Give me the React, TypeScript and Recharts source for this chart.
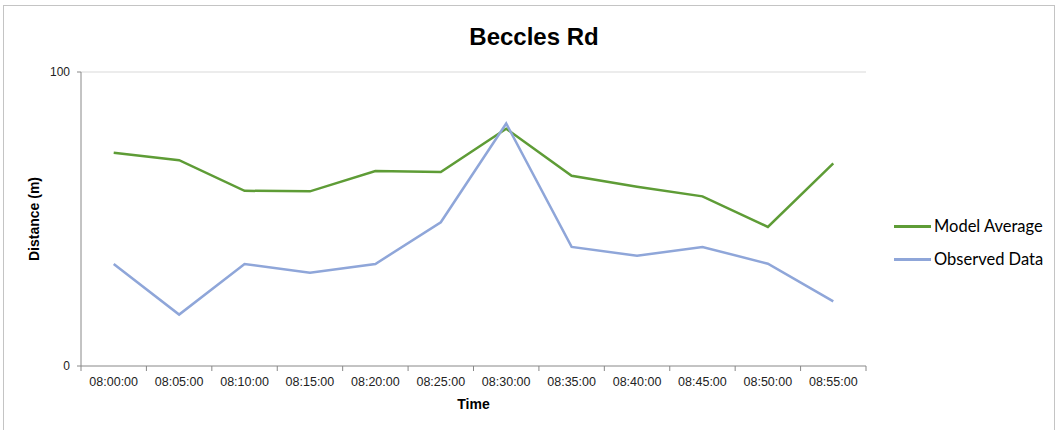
import { LineChart, Line, XAxis, YAxis, CartesianGrid } from 'recharts';

const times = [
  '08:00:00', '08:05:00', '08:10:00', '08:15:00', '08:20:00', '08:25:00',
  '08:30:00', '08:35:00', '08:40:00', '08:45:00', '08:50:00', '08:55:00',
];
const modelAverage = [72.5, 70.0, 59.6, 59.4, 66.3, 66.0, 80.7, 64.7, 61.0, 57.7, 47.3, 68.9];
const observedData = [34.7, 17.5, 34.7, 31.7, 34.7, 48.9, 82.5, 40.5, 37.5, 40.5, 34.8, 22.0];
const yTicks = [0, 100];
const seriesNames = ['Model Average', 'Observed Data'];
const seriesColors = ['#5e9c36', '#8fa6d9'];

const data = times.map((t, i) => ({
  time: t,
  model: modelAverage[i],
  observed: observedData[i],
}));

const W = 1064;
const H = 430;
const PLOT_LEFT = 81;
const PLOT_RIGHT = 866;
const PLOT_TOP = 72;
const PLOT_BOTTOM = 366;
const HALF_BAND = (PLOT_RIGHT - PLOT_LEFT) / times.length / 2;
const FONT = 'Liberation Sans, Arial, sans-serif';

function TimeTick(props: any) {
  const { x, payload, index } = props;
  const axisY = PLOT_BOTTOM;
  const last = index === times.length - 1;
  return (
    <g>
      <line x1={x - HALF_BAND} y1={axisY} x2={x - HALF_BAND} y2={axisY + 5} stroke="#888" />
      {last && (
        <line x1={x + HALF_BAND} y1={axisY} x2={x + HALF_BAND} y2={axisY + 5} stroke="#888" />
      )}
      <text x={x} y={axisY + 20} textAnchor="middle" fontFamily={FONT} fontSize={12.5} fill="#222">
        {payload.value}
      </text>
    </g>
  );
}

export default function App() {
  return (
    <div style={{ position: 'absolute', left: 0, top: 0, width: W, height: H, background: '#fff', overflow: 'hidden' }}>
      <div
        style={{
          position: 'absolute',
          left: 3,
          top: 5,
          width: 1052,
          height: 440,
          border: '1px solid #c4c4c4',
          boxSizing: 'border-box',
        }}
      />
      <div
        style={{
          position: 'absolute',
          left: 0,
          width: 1068,
          top: 22,
          textAlign: 'center',
          fontFamily: FONT,
          fontWeight: 'bold',
          fontSize: 24,
          lineHeight: '30px',
          color: '#000',
        }}
      >
        Beccles Rd
      </div>
      <LineChart
        width={W}
        height={H}
        data={data}
        margin={{ top: PLOT_TOP, right: W - PLOT_RIGHT, bottom: H - PLOT_BOTTOM - 30, left: 0 }}
        style={{ position: 'absolute', left: 0, top: 0 }}
      >
        <CartesianGrid vertical={false} horizontalValues={[100]} stroke="#d9d9d9" />
        <XAxis
          dataKey="time"
          scale="band"
          height={30}
          axisLine={{ stroke: '#888' }}
          tickLine={false}
          tick={<TimeTick />}
          interval={0}
          label={{
            value: 'Time',
            position: 'insideBottom',
            offset: -2,
            dx: 0,
            dy: 11,
            style: { fontFamily: FONT, fontWeight: 'bold', fontSize: 14, fill: '#000' },
          }}
        />
        <YAxis
          width={PLOT_LEFT}
          domain={[0, 100]}
          ticks={yTicks}
          axisLine={{ stroke: '#888' }}
          tickLine={{ stroke: '#888' }}
          tickSize={4}
          tickMargin={7}
          tick={{ fontFamily: FONT, fontSize: 12, fill: '#222' }}
          label={{
            value: 'Distance (m)',
            angle: -90,
            position: 'center',
            dx: -6,
            style: { fontFamily: FONT, fontWeight: 'bold', fontSize: 14, fill: '#000' },
          }}
        />
        <Line dataKey="model" name={seriesNames[0]} stroke={seriesColors[0]} strokeWidth={2.5} dot={false} isAnimationActive={false} />
        <Line dataKey="observed" name={seriesNames[1]} stroke={seriesColors[1]} strokeWidth={2.5} dot={false} isAnimationActive={false} />
      </LineChart>
      {seriesNames.map((name, i) => (
        <div
          key={name}
          style={{
            position: 'absolute',
            left: 894,
            top: 214 + i * 33,
            display: 'flex',
            alignItems: 'center',
            fontFamily: 'Lato, sans-serif',
            fontSize: 16.5,
            lineHeight: '24px',
            color: '#000',
          }}
        >
          <span style={{ display: 'inline-block', width: 37, height: 3, background: seriesColors[i], marginRight: 3 }} />
          {name}
        </div>
      ))}
    </div>
  );
}
